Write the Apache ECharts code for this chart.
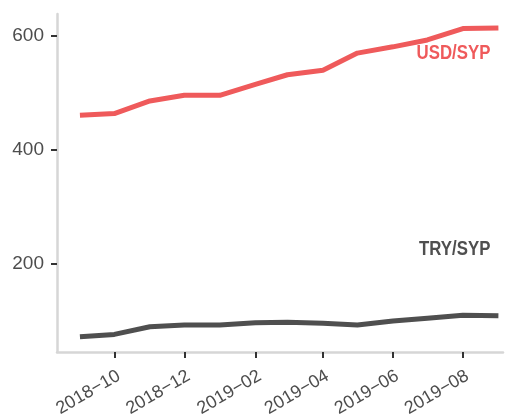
<!DOCTYPE html>
<html>
<head>
<meta charset="utf-8">
<script src="https://cdn.jsdelivr.net/npm/echarts@6/dist/echarts.min.js"></script>
<style>html,body{margin:0;padding:0;background:#fff}#c{width:506px;height:416px}</style>
</head>
<body>
<div id="c"></div>
<script>
const months = ['2018-09-01','2018-10-01','2018-11-01','2018-12-01','2019-01-01','2019-02-01','2019-03-01','2019-04-01','2019-05-01','2019-06-01','2019-07-01','2019-08-01','2019-09-01'];
const usdSyp = [461, 464, 486, 496, 496, 515, 532, 540, 570, 581, 593, 613, 614];
const trySyp = [72.5, 76.5, 90, 93, 93, 97, 98, 96, 93, 100, 105, 110, 109];
const xTicks = ['2018-10-01','2018-12-01','2019-02-01','2019-04-01','2019-06-01','2019-08-01'];
const yTicks = [200, 400, 600];
const seriesNames = ['USD/SYP', 'TRY/SYP'];
const seriesColors = ['#ef5a5b', '#4f4f4f'];
// label anchor (right edge, middle) in data units
const labelAnchors = [['2019-08-25', 570], ['2019-08-25', 225]];

const chart = echarts.init(document.getElementById('c'), null, {renderer: 'canvas'});
const ts = s => { const [y,m,d] = s.split('-').map(Number); return Date.UTC(y, m-1, d); };
const xTickVals = xTicks.map(ts);
const fmt = v => { const d = new Date(v); return d.getUTCFullYear() + '\u2212' + String(d.getUTCMonth()+1).padStart(2,'0'); };
const tickFont = '"Liberation Sans", Arial, sans-serif';

chart.setOption({
  animation: false,
  grid: {left: 57, right: 3, top: 14, bottom: 64, containLabel: false, outerBoundsMode: 'none'},
  xAxis: {
    type: 'value',
    min: ts('2018-08-12'),
    max: ts('2019-09-05'),
    splitLine: {show: false},
    axisLine: {lineStyle: {color: '#d6d6d6', width: 2.5}},
    axisTick: {show: true, customValues: xTickVals, length: 6, lineStyle: {color: '#333', width: 2}},
    axisLabel: {customValues: xTickVals, formatter: fmt, rotate: 30, margin: 15, verticalAlign: 'top', align: 'right', color: '#4d4d4d', fontSize: 18, fontFamily: tickFont}
  },
  yAxis: {
    type: 'value',
    min: 45.6,
    max: 638.6,
    splitLine: {show: false},
    axisLine: {show: true, lineStyle: {color: '#d6d6d6', width: 2.5}},
    axisTick: {show: true, customValues: yTicks, length: 6, lineStyle: {color: '#333', width: 2}},
    axisLabel: {customValues: yTicks, margin: 13, color: '#4d4d4d', fontSize: 19, fontFamily: tickFont}
  },
  series: [
    {
      name: seriesNames[0], type: 'line', showSymbol: false, symbol: 'none',
      data: months.map((m, i) => [ts(m), usdSyp[i]]),
      lineStyle: {color: seriesColors[0], width: 5}
    },
    {
      name: seriesNames[1], type: 'line', showSymbol: false, symbol: 'none',
      data: months.map((m, i) => [ts(m), trySyp[i]]),
      lineStyle: {color: seriesColors[1], width: 5}
    }
  ]
});

const graphics = labelAnchors.map((a, i) => {
  const p = chart.convertToPixel({xAxisIndex: 0, yAxisIndex: 0}, [ts(a[0]), a[1]]);
  return {
    type: 'text', x: p[0], y: p[1], scaleX: 0.82,
    style: {text: seriesNames[i], fill: seriesColors[i], font: 'bold 20.5px "Liberation Sans", Arial, sans-serif', align: 'right', verticalAlign: 'middle'}
  };
});
chart.setOption({graphic: graphics});
</script>
</body>
</html>
